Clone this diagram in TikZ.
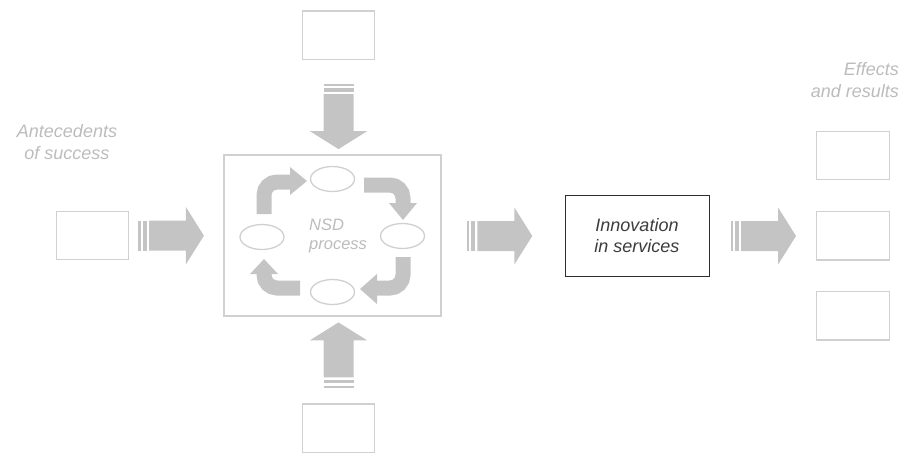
\documentclass[tikz,border=0pt]{standalone}
\usepackage{fontspec}
\setmainfont{Liberation Sans}
\usetikzlibrary{shapes.geometric,calc}

\definecolor{arrowgray}{RGB}{196,196,196}
\definecolor{framegray}{RGB}{208,208,208}
\definecolor{labelgray}{RGB}{188,188,188}
\definecolor{darkline}{RGB}{45,45,45}
\definecolor{darktext}{RGB}{60,60,60}

\tikzset{
  emptybox/.style={draw=framegray, line width=1.3pt, fill=white, inner sep=0pt,
    minimum width=72.5pt, minimum height=48.5pt},
  stagebox/.style={draw=framegray, line width=1.3pt, ellipse, fill=white, inner sep=0pt,
    minimum width=44pt, minimum height=25pt},
  sidelabel/.style={text=labelgray, font=\itshape\fontsize{18}{22.5}\selectfont, inner sep=0pt},
  loopshaft/.style={draw=arrowgray, line width=15pt, line cap=butt, rounded corners=13pt},
  pics/blockarrow/.style={code={
    \fill[arrowgray] (0,-15) rectangle (2.3,15);
    \fill[arrowgray] (4.6,-15) rectangle (8.4,15);
    \fill[arrowgray] (10.6,-15) -- (47.5,-15) -- (47.5,-28.7) -- (65.5,0)
      -- (47.5,28.7) -- (47.5,15) -- (10.6,15) -- cycle;
  }}
}

\begin{document}
\begin{tikzpicture}[x=1pt, y=-1pt]
\useasboundingbox (0,0) rectangle (906,453);

% NSD process frame
\node[draw=framegray, line width=1.5pt, inner sep=0pt, minimum width=217pt,
      minimum height=161pt] (nsd) at (332.5,235.5) {};

% stages of the process
\node[stagebox] (stN) at (332.5,179) {};
\node[stagebox] (stW) at (262,237) {};
\node[stagebox] (stE) at (402.5,236) {};
\node[stagebox] (stS) at (332.5,292) {};

% clockwise cycle between the stages
\coordinate (c1a) at (264,214);   \coordinate (c1b) at (291,182);
\coordinate (c2a) at (364,185);   \coordinate (c2b) at (403,204);
\coordinate (c3a) at (403,257);   \coordinate (c3b) at (376,288);
\coordinate (c4a) at (300,288);   \coordinate (c4b) at (264,273);
\draw[loopshaft] (c1a) |- (c1b);
\fill[arrowgray] (290,167) -- (307,181) -- (290,195) -- cycle;
\draw[loopshaft] (c2a) -| (c2b);
\fill[arrowgray] (389,203) -- (403,220) -- (417,203) -- cycle;
\draw[loopshaft] (c3a) |- (c3b);
\fill[arrowgray] (377,274) -- (360,289) -- (377,304) -- cycle;
\draw[loopshaft] (c4a) -| (c4b);
\fill[arrowgray] (250,274) -- (264,259) -- (278,274) -- cycle;

\node[text=labelgray, font=\itshape\fontsize{16.5}{19.5}\selectfont, align=left,
      anchor=west, inner sep=0pt] (nsdlabel) at (309,236) {NSD\\process};

% surrounding boxes
\node[emptybox] (antbox) at (92.5,235.5) {};
\node[emptybox] (topbox) at (338.5,35.2) {};
\node[emptybox] (botbox) at (338.5,428.3) {};
\node[emptybox] (eff1) at (853,155.5) {};
\node[emptybox] (eff2) at (853,235.7) {};
\node[emptybox] (eff3) at (853,315.7) {};

\node[draw=darkline, line width=1pt, inner sep=0pt, minimum width=144pt,
      minimum height=81pt, text=darktext, align=center,
      font=\itshape\fontsize{18}{21}\selectfont] (innov) at (637,235.5)
      {Innovation\\in services};

% labels
\node[sidelabel, align=center] (antlabel) at (67,142) {Antecedents\\of success};
\node[sidelabel, align=right, anchor=east] (efflabel) at (899,80) {Effects\\and results};

% block arrows
\pic at ($(antbox.east)+(9,0.2)$) {blockarrow};
\pic at ($(nsd.east)+(25,0.5)$) {blockarrow};
\pic at ($(innov.east)+(21,0.5)$) {blockarrow};
\pic[rotate=-90] at ($(topbox.south)+(0,23.5)$) {blockarrow};
\pic[rotate=90] at ($(botbox.north)+(0,-15.5)$) {blockarrow};
\end{tikzpicture}
\end{document}
